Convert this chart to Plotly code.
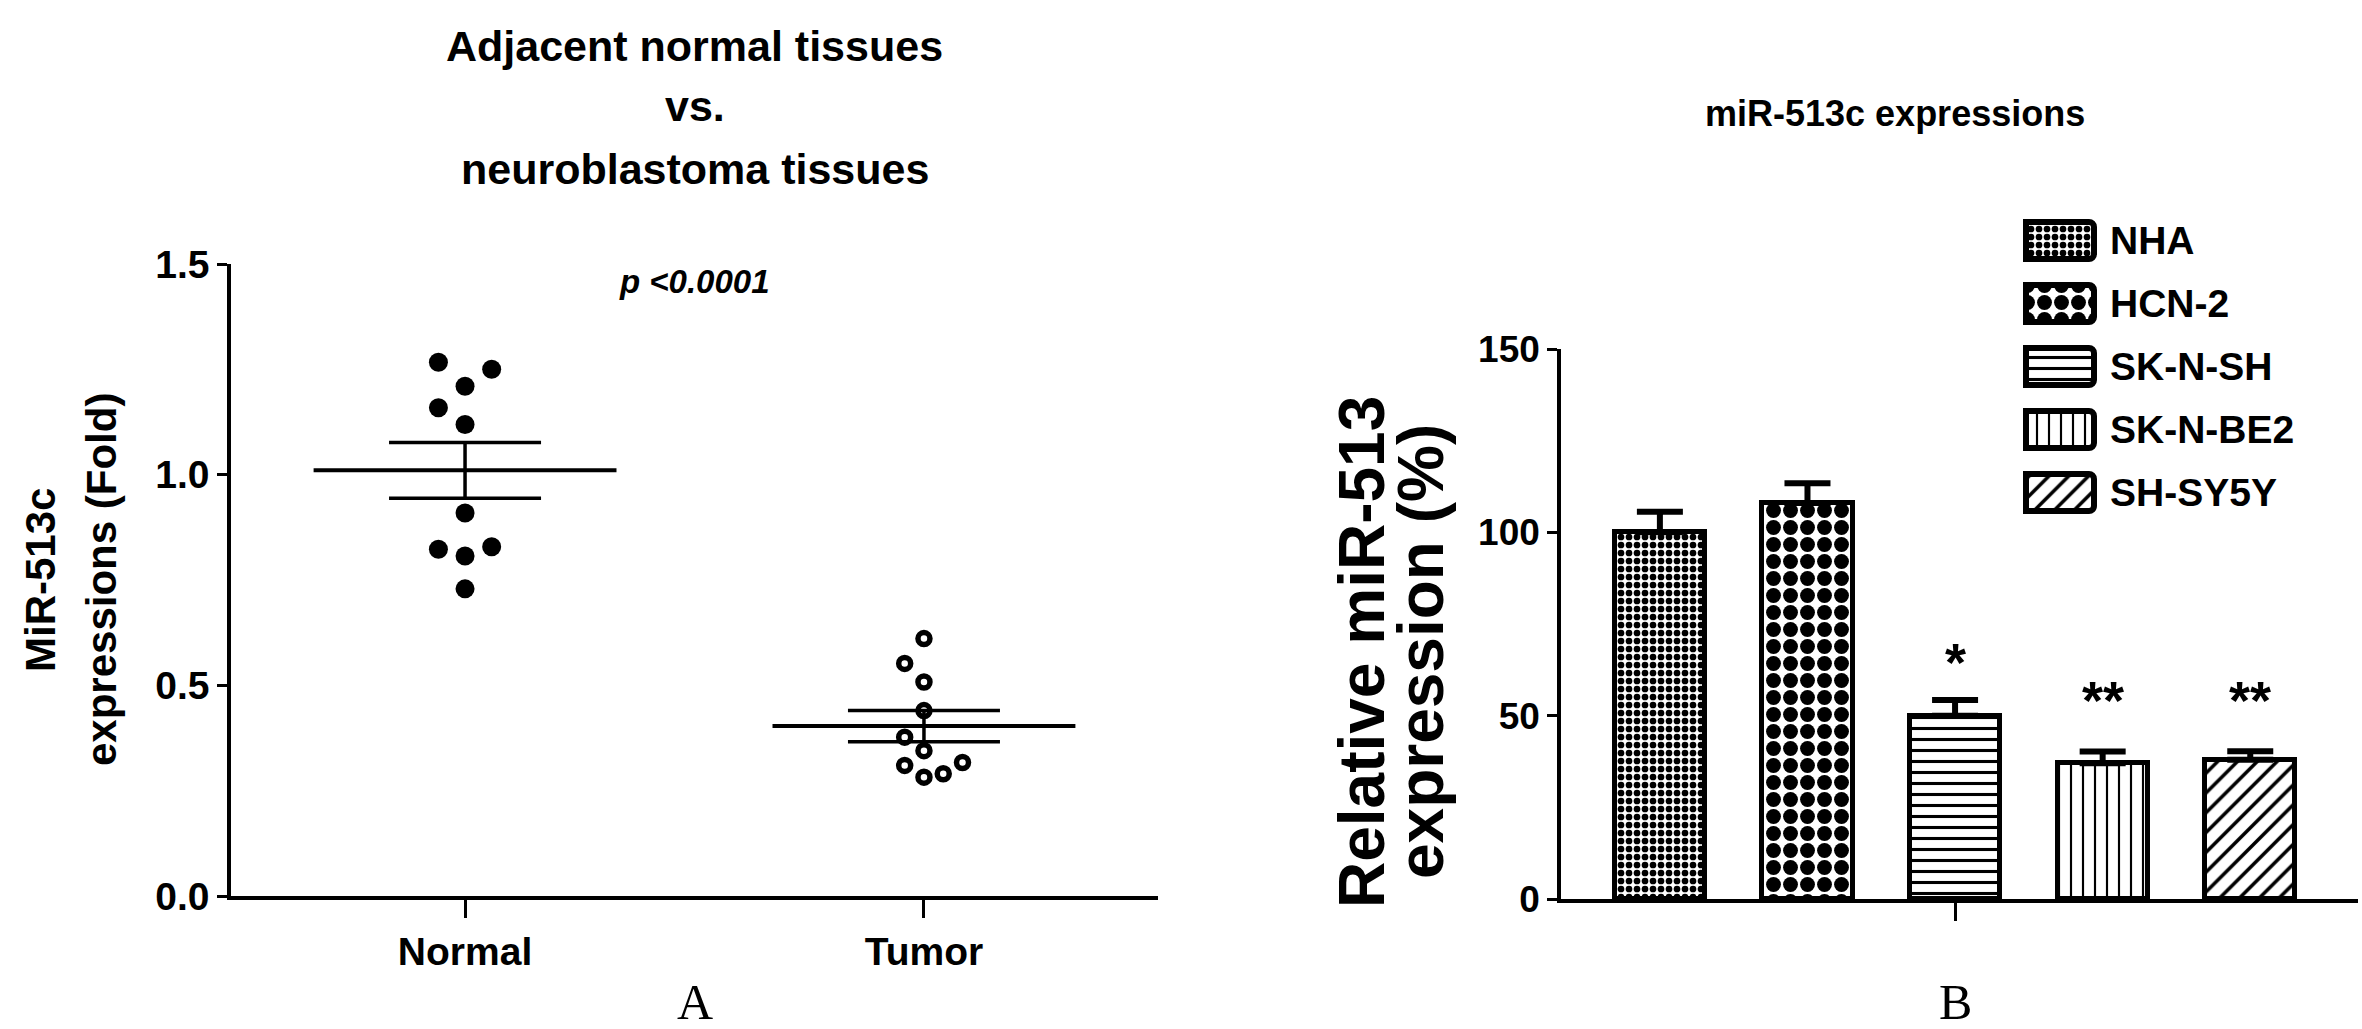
import numpy as np
import plotly.graph_objects as go

# ---------------- Panel A data ----------------
groups = ["Normal", "Tumor"]
normal_values = [1.267, 1.250, 1.210, 1.159, 1.119, 0.909, 0.823, 0.829, 0.807, 0.729]
normal_offsets = [-0.058, 0.058, 0.0, -0.058, 0.0, 0.0, -0.058, 0.058, 0.0, 0.0]
tumor_values = [0.611, 0.552, 0.508, 0.440, 0.377, 0.345, 0.310, 0.317, 0.282, 0.290]
tumor_offsets = [0.0, -0.042, 0.0, 0.0, -0.042, 0.0, -0.042, 0.084, 0.0, 0.042]
p_label = "p <0.0001"
title_a_lines = ["Adjacent normal tissues", "vs.", "neuroblastoma tissues"]
ylabel_a_lines = ["MiR-513c", "expressions (Fold)"]
yticks_a = [0.0, 0.5, 1.0, 1.5]

# ---------------- Panel B data ----------------
cell_lines = ["NHA", "HCN-2", "SK-N-SH", "SK-N-BE2", "SH-SY5Y"]
rel_expr = [100, 108, 50, 37, 38]
rel_err = [5.6, 5.4, 4.3, 3.2, 2.3]
sig_marks = ["", "", "*", "**", "**"]
sig_heights = [None, None, 65.7, 55.4, 55.4]
title_b = "miR-513c expressions"
ylabel_b_lines = ["Relative miR-513", "expression (%)"]
yticks_b = [0, 50, 100, 150]

# ---------------- styles ----------------
W, H = 2362, 1029
SANS = "Liberation Sans, Arial"
SERIF = "Liberation Serif, Times New Roman"
shapes_pat = [".", ".", "-", "|", "/"]
sizes_pat = [8, 17, 11, 12, 14]
solid_pat = [0.55, 0.6, 0.28, 0.18, 0.25]


def px_x(p):
    return p / W


def px_y(p):
    return 1 - p / H


fig = go.Figure()

# ---- Panel A: dot plot ----
gx = {g: i + 1 for i, g in enumerate(groups)}
fig.add_trace(go.Scatter(
    x=[gx["Normal"] + o for o in normal_offsets], y=normal_values,
    mode="markers", marker=dict(color="black", size=19, line=dict(width=0)),
    xaxis="x", yaxis="y", showlegend=False))
fig.add_trace(go.Scatter(
    x=[gx["Tumor"] + o for o in tumor_offsets], y=tumor_values,
    mode="markers", marker=dict(color="white", size=12, line=dict(color="black", width=5.5)),
    xaxis="x", yaxis="y", showlegend=False))

for g, vals in zip(groups, [normal_values, tumor_values]):
    arr = np.array(vals)
    m = arr.mean()
    sem = arr.std(ddof=1) / np.sqrt(len(arr))
    c = gx[g]
    fig.add_trace(go.Scatter(
        x=[c - 0.33, c + 0.33], y=[m, m], mode="lines",
        line=dict(color="black", width=4), xaxis="x", yaxis="y", showlegend=False))
    fig.add_trace(go.Scatter(
        x=[c], y=[m], mode="markers", marker=dict(size=1, color="black"),
        error_y=dict(type="data", array=[sem], color="black", thickness=3.5, width=76),
        xaxis="x", yaxis="y", showlegend=False))

# ---- Panel B: bars ----
bx = list(range(len(cell_lines)))
fig.add_trace(go.Bar(
    x=bx, y=rel_expr, width=0.61,
    marker=dict(color="white", line=dict(color="black", width=5),
                pattern=dict(shape=shapes_pat, size=sizes_pat, solidity=solid_pat,
                             fgcolor="black", bgcolor="white", fillmode="replace")),
    error_y=dict(type="data", symmetric=False, array=rel_err, arrayminus=[0] * len(rel_err),
                 color="black", thickness=6, width=23),
    xaxis="x2", yaxis="y2", showlegend=False))

# ---- Legend drawn as a small bar chart ----
fig.add_trace(go.Bar(
    y=cell_lines, x=[1] * len(cell_lines), orientation="h", width=0.58,
    marker=dict(color="white", line=dict(color="black", width=6), cornerradius=5,
                pattern=dict(shape=shapes_pat, size=sizes_pat, solidity=solid_pat,
                             fgcolor="black", bgcolor="white", fillmode="replace")),
    xaxis="x3", yaxis="y3", showlegend=False, hoverinfo="skip"))

annotations = []
# significance marks
for i, (h, s) in enumerate(zip(sig_heights, sig_marks)):
    if s:
        annotations.append(dict(x=i, y=h, xref="x2", yref="y2", text=s, showarrow=False,
                                xanchor="center", yanchor="middle", yshift=-4,
                                font=dict(family=SANS, size=54, color="black", weight="bold")))

# panel A title lines
for line, ypx in zip(title_a_lines, [46, 106, 169]):
    annotations.append(dict(x=1.5, xref="x", y=px_y(ypx), yref="paper", text=line,
                            showarrow=False, xanchor="center", yanchor="middle",
                            font=dict(family=SANS, size=43, color="black", weight="bold")))
# panel A y label lines
for line, xpx in zip(ylabel_a_lines, [40, 101]):
    annotations.append(dict(x=px_x(xpx), xref="paper", y=px_y(580), yref="paper", text=line,
                            showarrow=False, textangle=-90, xanchor="center", yanchor="middle",
                            font=dict(family=SANS, size=42, color="black", weight="bold")))
# panel B y label lines
for line, xpx in zip(ylabel_b_lines, [1362, 1421]):
    annotations.append(dict(x=px_x(xpx), xref="paper", y=px_y(652), yref="paper", text=line,
                            showarrow=False, textangle=-90, xanchor="center", yanchor="middle",
                            font=dict(family=SANS, size=64, color="black", weight="bold")))

annotations += [
    dict(x=1.5, xref="x", y=px_y(282), yref="paper", text=p_label, showarrow=False,
         xanchor="center", yanchor="middle",
         font=dict(family=SANS, size=33, color="black", weight="bold", style="italic")),
    dict(x=1.5, xref="x", y=px_y(1002), yref="paper", text="A", showarrow=False,
         xanchor="center", yanchor="middle", font=dict(family=SERIF, size=50, color="black")),
    dict(x=px_x(1895), xref="paper", y=px_y(113), yref="paper", text=title_b, showarrow=False,
         xanchor="center", yanchor="middle",
         font=dict(family=SANS, size=36, color="black", weight="bold")),
    dict(x=2, xref="x2", y=px_y(1002), yref="paper", text="B", showarrow=False,
         xanchor="center", yanchor="middle", font=dict(family=SERIF, size=50, color="black")),
]

axis_common = dict(showgrid=False, zeroline=False, showline=True, linecolor="black",
                   linewidth=3.5, ticks="outside", tickcolor="black", tickwidth=3,
                   automargin=False)

fig.update_layout(
    template="none",
    width=W, height=H, margin=dict(l=0, r=0, t=0, b=0, pad=0, autoexpand=False),
    paper_bgcolor="white", plot_bgcolor="white", showlegend=False,
    xaxis=dict(domain=[px_x(231), px_x(1158)], range=[0.49, 2.51],
               tickvals=[1, 2], ticktext=groups, ticklen=18,
               tickfont=dict(family=SANS, size=39, color="black", weight="bold"),
               anchor="y", **axis_common),
    yaxis=dict(domain=[px_y(896), px_y(264)], range=[0, 1.5],
               tickvals=yticks_a, ticktext=[f"{t:.1f}" for t in yticks_a], ticklen=10,
               tickfont=dict(family=SANS, size=39, color="black", weight="bold"),
               anchor="x", **axis_common),
    xaxis2=dict(domain=[px_x(1561), px_x(2358)], range=[-0.67, 4.73],
                tickvals=[2], ticktext=[""], ticklen=18,
                anchor="y2", **axis_common),
    yaxis2=dict(domain=[px_y(899), px_y(349)], range=[0, 150],
                tickvals=yticks_b, ticklen=10,
                tickfont=dict(family=SANS, size=37, color="black", weight="bold"),
                anchor="x2", **axis_common),
    xaxis3=dict(domain=[px_x(2019), px_x(2101)], range=[-0.1, 1.1], visible=False,
                anchor="y3", automargin=False),
    yaxis3=dict(domain=[px_y(524), px_y(209)], autorange="reversed", side="right",
                showline=False, showgrid=False, zeroline=False, ticks="",
                ticklabelstandoff=8, anchor="x3", automargin=False,
                tickfont=dict(family=SANS, size=39, color="black", weight="bold")),
    annotations=annotations,
    bargap=0,
)

fig.write_html("out.html")
